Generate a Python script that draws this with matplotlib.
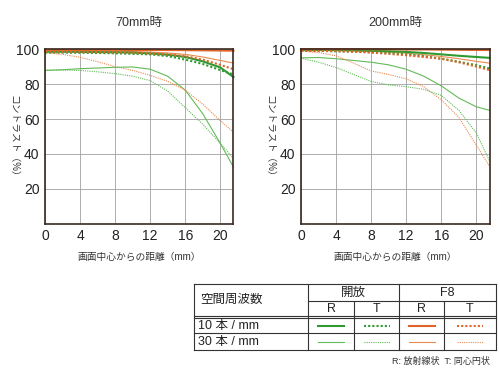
import numpy as np
import matplotlib.pyplot as plt
from matplotlib.lines import Line2D

plt.rcParams['font.family'] = ['Liberation Sans', 'Noto Sans CJK JP', 'DejaVu Sans']

# Daten: Bildhöhe (mm) und Kontrast (%)
x = [0, 2, 4, 6, 8, 10, 12, 14, 16, 18, 20, 21.5]

# 70mm
w70_o10R = [98.5, 98.5, 98.4, 98.3, 98.2, 98.0, 97.5, 96.8, 95.5, 93.0, 89.5, 84.0]
w70_o10T = [98.0, 98.0, 97.9, 97.8, 97.6, 97.3, 97.0, 96.0, 94.0, 91.5, 88.0, 85.5]
w70_o30R = [87.8, 88.2, 88.8, 89.2, 89.6, 89.8, 88.5, 84.5, 76.5, 63.0, 46.0, 32.5]
w70_o30T = [88.0, 88.0, 87.8, 87.0, 86.0, 84.5, 82.0, 76.0, 66.5, 57.0, 46.0, 37.5]
w70_f10R = [99.6, 99.6, 99.6, 99.6, 99.6, 99.5, 99.5, 99.5, 99.4, 99.3, 99.2, 99.1]
w70_f10T = [98.5, 98.5, 98.4, 98.3, 98.2, 98.0, 97.5, 97.0, 96.0, 94.0, 91.0, 88.5]
w70_f30R = [99.0, 99.0, 99.0, 98.9, 98.8, 98.6, 98.3, 97.8, 97.0, 95.5, 93.5, 92.0]
w70_f30T = [98.0, 97.0, 95.3, 92.8, 90.0, 87.8, 85.0, 81.5, 76.5, 68.5, 59.0, 52.5]

# 200mm
w200_o10R = [99.5, 99.5, 99.4, 99.3, 99.1, 98.8, 98.4, 97.8, 97.0, 96.2, 95.5, 95.0]
w200_o10T = [99.0, 99.0, 98.8, 98.6, 98.3, 97.8, 97.0, 96.0, 94.5, 92.8, 90.8, 89.0]
w200_o30R = [95.0, 95.2, 94.5, 93.5, 92.5, 91.0, 88.5, 84.5, 79.0, 72.0, 67.0, 65.0]
w200_o30T = [94.8, 92.5, 89.5, 85.5, 81.5, 79.5, 78.5, 77.0, 73.5, 65.0, 52.0, 36.0]
w200_f10R = [100.0, 100.0, 100.0, 100.0, 99.9, 99.9, 99.8, 99.8, 99.7, 99.6, 99.5, 99.5]
w200_f10T = [99.0, 99.0, 98.8, 98.5, 98.0, 97.3, 96.5, 95.5, 94.5, 92.5, 90.0, 88.0]
w200_f30R = [99.5, 99.5, 99.3, 99.0, 98.7, 98.3, 97.7, 96.8, 95.8, 94.5, 93.0, 92.0]
w200_f30T = [99.0, 98.0, 96.2, 92.0, 87.5, 85.5, 83.0, 78.5, 71.0, 61.0, 45.0, 33.0]

titles = ['70mm時', '200mm時']
xticks = [0, 4, 8, 12, 16, 20]
yticks = [20, 40, 60, 80, 100]

# Stile: (Farbe, Linienbreite, Linienstil)
dots = (0, (1, 1))
g_thick = ('#2f9a32', 1.5, '-')
g_thick_d = ('#2f9a32', 1.5, dots)
g_thin = ('#62bb58', 0.8, '-')
g_thin_d = ('#62bb58', 0.8, dots)
o_thick = ('#e0652a', 1.5, '-')
o_thick_d = ('#e0652a', 1.5, dots)
o_thin = ('#e88a50', 0.8, '-')
o_thin_d = ('#e88a50', 0.8, dots)

series = [
    [(w70_o30R, g_thin), (w70_o30T, g_thin_d), (w70_f30R, o_thin), (w70_f30T, o_thin_d),
     (w70_o10R, g_thick), (w70_o10T, g_thick_d), (w70_f10R, o_thick), (w70_f10T, o_thick_d)],
    [(w200_o30R, g_thin), (w200_o30T, g_thin_d), (w200_f30R, o_thin), (w200_f30T, o_thin_d),
     (w200_o10R, g_thick), (w200_o10T, g_thick_d), (w200_f10R, o_thick), (w200_f10T, o_thick_d)],
]

fig = plt.figure(figsize=(5, 3.75), dpi=100)
lefts = [0.09, 0.602]
for i in range(2):
    ax = fig.add_axes([lefts[i], 0.403, 0.377, 0.466])
    for y, (c, lw, ls) in series[i]:
        ax.plot(x, y, color=c, lw=lw, ls=ls, clip_on=False)
    ax.set_xlim(0, 21.5)
    ax.set_ylim(0, 100)
    ax.set_xticks(xticks)
    ax.set_yticks(yticks)
    ax.grid(True, color='#a0a0a0', lw=0.6)
    ax.tick_params(length=0, labelsize=10, pad=4, colors='#222222')
    for s in ax.spines.values():
        s.set_color('#3a2a22')
        s.set_linewidth(1.2)
    ax.set_title(titles[i], fontsize=9, pad=17, color='#333333')
    ax.set_xlabel('画面中心からの距離（mm）', fontsize=7, labelpad=6, color='#333333')
    ax.set_ylabel('コントラスト（%）', fontsize=7, rotation=270, color='#333333',
                  ha='center', va='center')
    ax.yaxis.set_label_coords(-0.17, 0.49)
    ax.set_axisbelow(True)

# Legendentabelle (Pixelkoordinaten)
tab = fig.add_axes([0, 0, 1, 1])
tab.set_xlim(0, 500)
tab.set_ylim(375, 0)
tab.axis('off')
cols = [194, 308, 354, 399, 444, 496]
rows = [284, 301, 316, 333, 350]
k = dict(color='#333333', lw=0.8)
tab.plot([cols[0], cols[-1]], [rows[0], rows[0]], **k)
tab.plot([cols[1], cols[-1]], [rows[1], rows[1]], **k)
tab.plot([cols[0], cols[-1]], [rows[2], rows[2]], **k)
tab.plot([cols[0], cols[-1]], [rows[2] + 2, rows[2] + 2], **k)
tab.plot([cols[0], cols[-1]], [rows[3], rows[3]], **k)
tab.plot([cols[0], cols[-1]], [rows[4], rows[4]], **k)
for c in [cols[0], cols[1], cols[3], cols[5]]:
    tab.plot([c, c], [rows[0], rows[4]], **k)
for c in [cols[2], cols[4]]:
    tab.plot([c, c], [rows[1], rows[4]], **k)

tk = dict(fontsize=9, color='#222222', va='center')
tab.text(200, (rows[0] + rows[2]) / 2, '空間周波数', ha='left', **tk)
tab.text((cols[1] + cols[3]) / 2, (rows[0] + rows[1]) / 2, '開放', ha='center', **tk)
tab.text((cols[3] + cols[5]) / 2, (rows[0] + rows[1]) / 2, 'F8', ha='center', **tk)
for j, lab in enumerate(['R', 'T', 'R', 'T']):
    tab.text((cols[j + 1] + cols[j + 2]) / 2, (rows[1] + rows[2]) / 2, lab, ha='center', **tk)
tab.text(198, (rows[2] + rows[3]) / 2 + 1, '10 本 / mm', ha='left', **tk)
tab.text(198, (rows[3] + rows[4]) / 2, '30 本 / mm', ha='left', **tk)

row_styles = [[g_thick, g_thick_d, o_thick, o_thick_d], [g_thin, g_thin_d, o_thin, o_thin_d]]
for r, styles in enumerate(row_styles):
    yy = (rows[r + 2] + rows[r + 3]) / 2 + (1 if r == 0 else 0)
    for j, (c, lw, ls) in enumerate(styles):
        cx = (cols[j + 1] + cols[j + 2]) / 2
        tab.add_line(Line2D([cx - 13, cx + 13], [yy, yy], color=c, lw=lw, ls=ls))

tab.text(490, 361, 'R: 放射線状  T: 同心円状', ha='right', va='center', fontsize=6.5, color='#333333')

fig.savefig('out.png', dpi=100)
